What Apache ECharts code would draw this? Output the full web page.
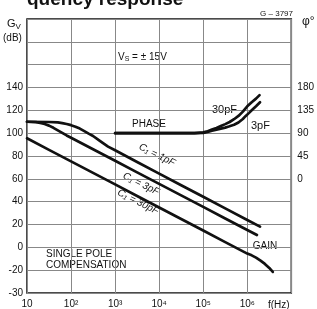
<!DOCTYPE html>
<html><head><meta charset="utf-8">
<script src="https://cdn.jsdelivr.net/npm/echarts@6/dist/echarts.min.js"></script>
<style>html,body{margin:0;padding:0;background:#fff}#c{width:317px;height:309px}</style>
</head><body><div id="c"></div>
<script>
// X tick labels (log decades from 10 Hz to 10^7 Hz)
const xTickValues = [10, 100, 1000, 10000, 100000, 1000000, 10000000];
const xTickLabels = ['10', '10²', '10³', '10⁴', '10⁵', '10⁶', ''];
// Left axis (Gv dB) tick labels; the bottom gridline is labelled -30 in the original
const yTickValues = [-40, -20, 0, 20, 40, 60, 80, 100, 120, 140];
const yTickLabels = ['-30', '-20', '0', '20', '40', '60', '80', '100', '120', '140'];
// Right axis (phase, degrees)
const phaseTickValues = [0, 45, 90, 135, 180];
const phaseTickLabels = ['0', '45', '90', '135', '180'];

// Gain, C1 = 1pF
const gain1Freq = [10, 31.6, 50, 63.1, 79.4, 100, 126, 158, 200, 251, 316, 450, 692, 1000, 3160, 10000, 31600, 100000, 316000, 1000000, 1950000];
const gain1Val  = [110, 109.8, 109.4, 108.8, 108, 107, 105.7, 104, 101.8, 99.6, 97.5, 93.2, 88.2, 85, 74.8, 64.6, 54.4, 44.3, 34.1, 24, 18.1];
// Gain, C1 = 3pF
const gain3Freq = [10, 15.8, 20, 25.1, 31.6, 39.8, 50, 63.1, 79.4, 100, 316, 1000, 3160, 10000, 31600, 100000, 316000, 1000000, 1660000];
const gain3Val  = [110, 109.7, 109, 108, 106.6, 104.7, 102.5, 100.2, 98, 96, 85.9, 75.8, 65.7, 55.6, 45.5, 35.4, 25.3, 15.2, 10.8];
// Gain, C1 = 30pF
const gain30Freq = [10, 31.6, 100, 316, 1000, 3160, 10000, 31600, 100000, 316000, 1000000, 1260000, 1580000, 2000000, 2510000, 3160000, 3800000];
const gain30Val  = [95.5, 85.4, 75.3, 65.2, 55.1, 45, 34.9, 24.8, 14.7, 4.6, -5.5, -7, -9, -11.6, -14.5, -18, -21.5];
// Phase, 30pF
const phase30Freq = [1000, 63100, 100000, 126000, 158000, 200000, 251000, 316000, 398000, 501000, 631000, 794000, 1000000, 1260000, 1580000, 1900000];
const phase30Val  = [90, 90, 91.5, 93.8, 97, 100.3, 104, 107.8, 112, 117.5, 124, 132.5, 143, 151, 158, 165];
// Phase, 3pF
const phase3Freq = [1000, 63100, 100000, 126000, 158000, 200000, 251000, 316000, 380000, 501000, 631000, 794000, 912000, 1100000, 1260000, 1580000, 1950000];
const phase3Val  = [90, 90, 90.5, 92.5, 95, 97, 99, 101, 103, 106.5, 111, 118, 123.5, 130, 135, 143, 151];

const zip = (a, b) => a.map((v, i) => [v, b[i]]);
const FONT = 'Liberation Sans';
const chart = echarts.init(document.getElementById('c'), null, {renderer: 'canvas'});
const lineS = (name, data, yi) => ({
  name, type: 'line', data, yAxisIndex: yi, showSymbol: false, smooth: false,
  lineStyle: {color: '#111', width: 2.7, join: 'round', cap: 'round'}, silent: true, animation: false
});
const txt = (x, y, text, o) => ({type: 'text', x, y, style: Object.assign({text, fill: '#111', font: '10px ' + FONT}, o || {}), silent: true});
const rtxt = (x, y, text) => ({type: 'text', x, y, rotation: -0.46, silent: true,
  style: {text, fill: '#111', font: 'italic 10px ' + FONT, align: 'center', verticalAlign: 'middle'}});

chart.setOption({
  animation: false,
  grid: {left: 27, right: 20, top: 19, bottom: 16, show: true, borderColor: '#111', borderWidth: 1.5, containLabel: false},
  xAxis: {
    type: 'log', logBase: 10, min: 10, max: 10000000,
    axisLine: {show: false}, axisTick: {show: false},
    splitLine: {show: true, lineStyle: {color: '#888', width: 1}},
    axisLabel: {
      margin: 6, color: '#111', fontFamily: FONT, fontSize: 10,
      formatter: v => { const i = xTickValues.findIndex(t => Math.abs(Math.log10(t) - Math.log10(v)) < 1e-6); return i >= 0 ? xTickLabels[i] : ''; }
    }
  },
  yAxis: [
    {
      type: 'value', min: -40, max: 200, interval: 20,
      axisLine: {show: false}, axisTick: {show: false},
      splitLine: {show: true, lineStyle: {color: '#888', width: 1}},
      axisLabel: {margin: 4, color: '#111', fontFamily: FONT, fontSize: 10,
        formatter: v => { const i = yTickValues.indexOf(v); return i >= 0 ? yTickLabels[i] : ''; }}
    },
    {
      type: 'value', min: -225, max: 315, interval: 45, position: 'right',
      axisLine: {show: false}, axisTick: {show: false}, splitLine: {show: false},
      axisLabel: {margin: 6, color: '#111', fontFamily: FONT, fontSize: 10,
        formatter: v => { const i = phaseTickValues.indexOf(v); return i >= 0 ? phaseTickLabels[i] : ''; }}
    }
  ],
  series: [
    lineS('C1=1pF', zip(gain1Freq, gain1Val), 0),
    lineS('C1=3pF', zip(gain3Freq, gain3Val), 0),
    lineS('C1=30pF', zip(gain30Freq, gain30Val), 0),
    lineS('phase 30pF', zip(phase30Freq, phase30Val), 1),
    lineS('phase 3pF', zip(phase3Freq, phase3Val), 1)
  ],
  graphic: [
    txt(27, 9, 'quency response', {font: 'bold 19px ' + FONT, verticalAlign: 'bottom'}),
    txt(293, 14, 'G – 3797', {font: '8px ' + FONT, align: 'right', verticalAlign: 'middle'}),
    {type: 'text', x: 7, y: 24, silent: true, style: {text: '{a|G}{b|V}', verticalAlign: 'middle', rich: {a: {fontFamily: FONT, fontSize: 11, fill: '#111'}, b: {fontFamily: FONT, fontSize: 8, fill: '#111', padding: [5, 0, 0, 0]}}}},
    txt(3, 38, '(dB)', {font: '10px ' + FONT, verticalAlign: 'middle'}),
    txt(302, 22, 'φ°', {font: '12px ' + FONT, verticalAlign: 'middle'}),
    {type: 'text', x: 118, y: 57, silent: true, style: {text: '{a|V}{b|S}{a| = ± 15V}', verticalAlign: 'middle', rich: {a: {fontFamily: FONT, fontSize: 10, fill: '#111'}, b: {fontFamily: FONT, fontSize: 7, fill: '#111', padding: [4, 0, 0, 0]}}}},
    txt(132, 124, 'PHASE', {font: '10px ' + FONT, verticalAlign: 'middle'}),
    txt(212, 110, '30pF', {font: '11px ' + FONT, verticalAlign: 'middle'}),
    txt(251, 126, '3pF', {font: '11px ' + FONT, verticalAlign: 'middle'}),
    rtxt(157, 155, 'C₁ = 1pF'),
    rtxt(141, 184, 'C₁ = 3pF'),
    rtxt(138, 202, 'C₁ = 30pF'),
    txt(265, 246, 'GAIN', {font: '10px ' + FONT, align: 'center', verticalAlign: 'middle'}),
    txt(46, 254, 'SINGLE POLE', {font: '10px ' + FONT, verticalAlign: 'middle'}),
    txt(46, 265, 'COMPENSATION', {font: '10px ' + FONT, verticalAlign: 'middle'}),
    txt(268, 305, 'f(Hz)', {font: '10px ' + FONT, verticalAlign: 'middle'})
  ]
});
</script></body></html>
